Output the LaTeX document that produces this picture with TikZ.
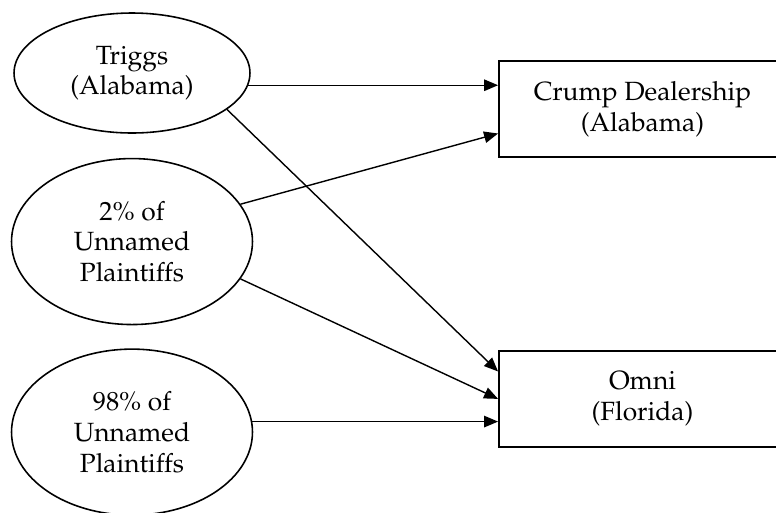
\documentclass[tikz,border=0pt]{standalone}
\usepackage[T1]{fontenc}
\usepackage{mathpazo}
\usepackage{tikz}
\usetikzlibrary{arrows.meta,positioning,calc,shapes.geometric}
\tikzset{
  party/.style={draw,ellipse,line width=.9pt,inner sep=0pt,minimum width=4.82cm,minimum height=3.32cm,align=center,font=\fontsize{15}{17.5}\selectfont},
  firm/.style={draw,rectangle,line width=1.1pt,minimum width=5.74cm,minimum height=1.92cm,align=center,font=\fontsize{15}{17.5}\selectfont},
  claim/.style={-{Triangle[length=2.8mm,width=2.3mm]},line width=.8pt}
}
\begin{document}
\begin{tikzpicture}[x=.02cm,y=-.02cm]
  \useasboundingbox (0,0) rectangle (776,512);
  \node[party,minimum width=4.72cm,minimum height=2.4cm] (triggs) at (132,73) {Triggs\\(Alabama)};
  \node[party,below=.48cm of triggs.south,anchor=north] (twopct) {2\% of\\Unnamed\\Plaintiffs};
  \node[party,below=.46cm of twopct.south,anchor=north] (ninety) {98\% of\\Unnamed\\Plaintiffs};

  \node[firm] (crump) at (642.5,109) {Crump Dealership\\(Alabama)};
  \node[firm,below=3.84cm of crump] (omni) {Omni\\(Florida)};

  \draw[claim] (triggs.-6) -- (triggs.-6 -| crump.west);
  \draw[claim] (triggs.-21) -- ($(omni.north west)!.22!(omni.south west)$);
  \draw[claim] (twopct.19) -- ($(crump.north west)!.75!(crump.south west)$);
  \draw[claim] (twopct.-19) -- (omni.west);
  \draw[claim] (ninety.5) -- (ninety.5 -| omni.west);
\end{tikzpicture}
\end{document}
